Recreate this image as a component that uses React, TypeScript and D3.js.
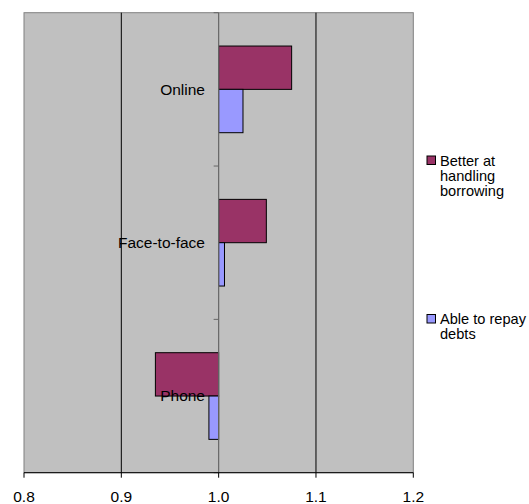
import React from "react";
import * as d3 from "d3";

const categories = ["Online", "Face-to-face", "Phone"];
const seriesNames = ["Better at handling borrowing", "Able to repay debts"];
const betterAtHandling = [1.075, 1.049, 0.935];
const ableToRepay = [1.025, 1.006, 0.99];
const xTicks = [0.8, 0.9, 1.0, 1.1, 1.2];
const legendLines = [["Better at", "handling", "borrowing"], ["Able to repay", "debts"]];

const W = 529, H = 504;
const plot = { left: 24, right: 413.3, top: 12.7, bottom: 472.7 };
const colors = ["#993366", "#9999FF"];
const font = "'Liberation Sans', Arial, sans-serif";

export default function App() {
  const x = d3.scaleLinear().domain([0.8, 1.2]).range([plot.left, plot.right]);
  const y = d3.scaleBand<string>().domain(categories).range([plot.top, plot.bottom]).paddingInner(0.4348).paddingOuter(0.2174);
  const sub = d3.scaleBand<number>().domain([0, 1]).range([0, y.bandwidth()]);
  const step = (plot.bottom - plot.top) / categories.length;
  const series = [betterAtHandling, ableToRepay];
  const base = x(1.0);
  return (
    <svg width={W} height={H} style={{ position: "absolute", left: 0, top: 0, fontFamily: font }}>
      <rect x={0} y={0} width={W} height={H} fill="#fff" />
      <rect x={plot.left} y={plot.top} width={plot.right - plot.left} height={plot.bottom - plot.top} fill="#C0C0C0" stroke="#808080" strokeWidth={1} />
      {xTicks.filter(t => t > 0.8 && t < 1.2 && t !== 1.0).map(t => (
        <line key={t} x1={x(t)} x2={x(t)} y1={plot.top} y2={plot.bottom} stroke="#000" strokeWidth={1} />
      ))}
      {categories.map((c, i) => series.map((s, j) => {
        const v = s[i];
        const x0 = Math.min(x(v), base), x1 = Math.max(x(v), base);
        return <rect key={c + j} x={x0} y={(y(c) as number) + (sub(j) as number)} width={x1 - x0} height={sub.bandwidth()} fill={colors[j]} stroke="#000" strokeWidth={1} />;
      }))}
      <line x1={base} x2={base} y1={plot.top} y2={plot.bottom} stroke="#666" strokeWidth={1.2} />
      {d3.range(categories.length + 1).map(k => (
        <line key={k} x1={base - 5} x2={base} y1={plot.top + k * step} y2={plot.top + k * step} stroke="#666" strokeWidth={1} />
      ))}
      {categories.map(c => (
        <text key={c} x={205} y={(y(c) as number) + y.bandwidth() / 2} dy="0.35em" textAnchor="end" fontSize={15.5} fill="#000">{c}</text>
      ))}
      <line x1={plot.left} x2={plot.right} y1={plot.bottom} y2={plot.bottom} stroke="#000" strokeWidth={1} />
      {xTicks.map(t => (
        <g key={t}>
          <line x1={x(t)} x2={x(t)} y1={plot.bottom} y2={plot.bottom + 5} stroke="#000" strokeWidth={1} />
          <text x={x(t)} y={501.5} textAnchor="middle" fontSize={15.5} fill="#000">{t.toFixed(1)}</text>
        </g>
      ))}
      {seriesNames.map((n, j) => {
        const sy = j === 0 ? 156 : 314.5;
        return (
          <g key={n}>
            <rect x={427} y={sy} width={8.5} height={8.5} fill={colors[j]} stroke="#000" strokeWidth={1} />
            {legendLines[j].map((ln, k) => (
              <text key={k} x={440} y={sy + 9.5 + k * 15} fontSize={14.6} fill="#000">{ln}</text>
            ))}
          </g>
        );
      })}
    </svg>
  );
}
